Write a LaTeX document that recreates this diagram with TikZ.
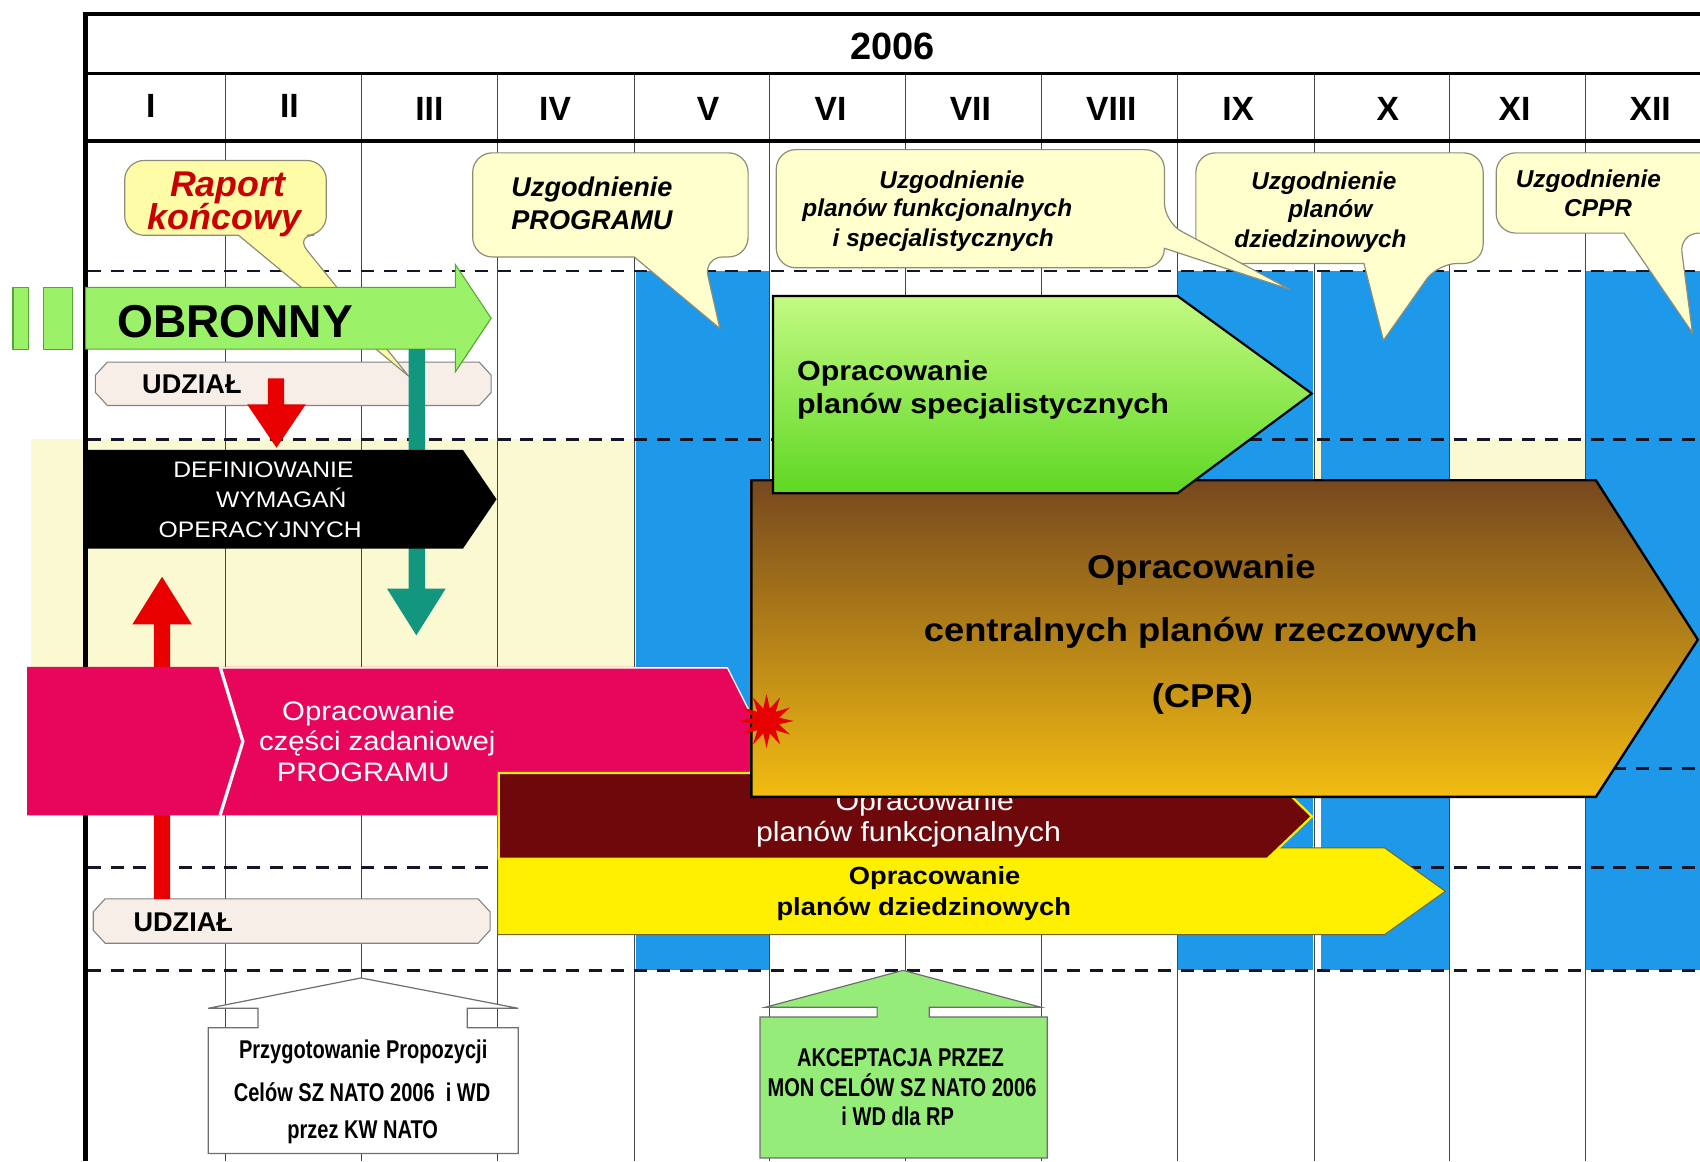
\documentclass[tikz,border=0pt]{standalone}
\usepackage{fontspec}
\setmainfont{Liberation Sans}
\newfontfamily\wideB[FakeStretch=1.1]{Liberation Sans}
\newfontfamily\narrowA[FakeStretch=0.78]{Liberation Sans}
\usetikzlibrary{shapes.geometric}
\newcommand\fsz[2]{\fontsize{#1}{#2}\selectfont}

\definecolor{sky}{RGB}{30,152,232}
\definecolor{cream}{RGB}{251,249,210}
\definecolor{gridc}{RGB}{70,70,70}
\definecolor{dashc}{RGB}{20,22,40}
\definecolor{bubblefill}{RGB}{255,255,205}
\definecolor{bubbleedge}{RGB}{140,140,120}
\definecolor{raportfill}{RGB}{255,252,168}
\definecolor{raportred}{RGB}{200,0,0}
\definecolor{obrgreen}{RGB}{155,242,105}
\definecolor{obredge}{RGB}{85,165,55}
\definecolor{udzfill}{RGB}{248,238,232}
\definecolor{udzedge}{RGB}{130,130,130}
\definecolor{tealarr}{RGB}{18,150,128}
\definecolor{redarr}{RGB}{232,0,0}
\definecolor{pinkarr}{RGB}{232,6,92}
\definecolor{maroonarr}{RGB}{110,8,10}
\definecolor{yellowarr}{RGB}{255,240,0}
\definecolor{yellowedge}{RGB}{110,100,20}
\definecolor{specTop}{RGB}{195,250,130}
\definecolor{specBot}{RGB}{95,215,35}
\definecolor{cprTop}{RGB}{118,72,30}
\definecolor{cprMid}{RGB}{185,128,35}
\definecolor{cprBot}{RGB}{242,188,18}
\definecolor{akcgreen}{RGB}{150,236,120}
\definecolor{boxedge}{RGB}{110,110,110}

\begin{document}
\begin{tikzpicture}[x=1pt,y=-1pt,
  txt/.style={inner sep=0pt, anchor=base},
  month/.style={txt, font=\fsz{31}{36}\bfseries},
  colline/.style={draw=gridc, line width=1pt},
  rowdash/.style={draw=dashc, line width=2.6pt, dash pattern=on 12pt off 9pt},
  frameline/.style={draw=black, line width=3.5pt},
  bubble/.style={fill=bubblefill, draw=bubbleedge, line width=1.1pt},
  bubbleR/.style={fill=raportfill, draw=bubbleedge, line width=1.1pt},
  bubtxt/.style={txt, font=\fsz{22.5}{27}\bfseries\itshape},
  obr/.style={fill=obrgreen, draw=obredge, line width=1pt},
  udz/.style={fill=udzfill, draw=udzedge, line width=1pt},
  udztxt/.style={txt, anchor=base west, font=\fsz{25}{30}\bfseries},
  deftxt/.style={txt, text=white, font=\fsz{20.7}{25}\wideB},
  pinktxt/.style={txt, text=white, font=\fsz{24.6}{29}\wideB},
  spectxt/.style={txt, anchor=base west, font=\fsz{25.5}{30}\wideB\bfseries},
  cprtxt/.style={txt, font=\fsz{30.5}{35}\wideB\bfseries},
  martxt/.style={txt, text=white, font=\fsz{25.4}{30}\wideB},
  yeltxt/.style={txt, font=\fsz{22.9}{27}\wideB\bfseries},
  boxtxt/.style={txt, font=\fsz{23.7}{28}\narrowA\bfseries},
  boxW/.style={fill=white, draw=boxedge, line width=1.1pt},
  boxG/.style={fill=akcgreen, draw=boxedge, line width=1.1pt}
]
\clip (0,0) rectangle (1568,1071);
\fill[white] (0,0) rectangle (1568,1071);

% background bands
\fill[cream] (29,405) rectangle (1568,615);
\fill[sky] (587,250) rectangle (710,895);
\fill[sky] (1086,250) rectangle (1211,895);
\fill[sky] (1218,250) rectangle (1337,895);
\fill[sky] (1462,250) rectangle (1568,895);

% month grid
\foreach \x in {208,333.5,459,585,710,835,961,1086,1212,1337,1462}
  \draw[colline] (\x,68) -- (\x,1071);

% dashed row separators
\foreach \y in {250,405,709,800,895}
  \draw[rowdash] (81,\y) -- (1568,\y);

% table frame
\draw[frameline] (77,13) -- (1568,13);
\draw[frameline, line width=3pt] (79,68) -- (1568,68);
\draw[frameline] (79,130) -- (1568,130);
\draw[frameline, line width=4pt] (79,11.3) -- (79,1071);

% header
\node[txt, font=\fsz{35}{40}\bfseries] (year) at (823.5,55) {2006};
\node[month] (m1) at (139,108) {I};
\node[month] (m2) at (267,108) {II};
\node[month] (m3) at (396,111) {III};
\node[month] (m4) at (512,111) {IV};
\node[month] (m5) at (653,111) {V};
\node[month] (m6) at (766,111) {VI};
\node[month] (m7) at (895,111) {VII};
\node[month] (m8) at (1025,111) {VIII};
\node[month] (m9) at (1142,111) {IX};
\node[month] (m10) at (1280,111) {X};
\node[month] (m11) at (1397,111) {XI};
\node[month] (m12) at (1522,111) {XII};

% callouts
\draw[bubble] (585,237) [rounded corners=18pt] -- (436,237) -- (436,141) -- (690,141) -- (690,237) -- (649,237) [sharp corners] -- (664,303) -- cycle;
\node[bubtxt, font=\fsz{25}{30}\bfseries\itshape] (u1a) at (546,181.5) {Uzgodnienie};
\node[bubtxt, font=\fsz{25}{30}\bfseries\itshape] (u1b) at (546,212) {PROGRAMU};

\draw[bubble] (1258,243) [rounded corners=18pt] -- (1103,243) -- (1103,141) -- (1368,141) -- (1368,243) -- (1326,243) [sharp corners] -- (1276,314) -- cycle;
\node[bubtxt] (u3a) at (1221,174.5) {Uzgodnienie};
\node[bubtxt] (u3b) at (1227,200.5) {planów};
\node[bubtxt] (u3c) at (1218,228) {dziedzinowych};

\draw[bubble] (1074,229) [rounded corners=18pt] -- (1074,247) -- (716,247) -- (716,138) -- (1074,138) -- (1074,205) [sharp corners] -- (1190,267) -- cycle;
\node[bubtxt] (u2a) at (878,173.5) {Uzgodnienie};
\node[bubtxt] (u2b) at (864.5,200) {planów funkcjonalnych};
\node[bubtxt] (u2c) at (870,227.5) {i specjalistycznych};

\draw[bubble] (1498,215) [rounded corners=18pt] -- (1380,215) -- (1380,141) -- (1620,141) -- (1620,215) -- (1549,215) [sharp corners] -- (1561,307) -- cycle;
\node[bubtxt] (u4a) at (1465,172.5) {Uzgodnienie};
\node[bubtxt] (u4b) at (1474,200) {CPPR};

% participation boxes
\draw[udz] (99,334) -- (442,334) -- (453,346) -- (453,362) -- (442,374) -- (99,374) -- (88,362) -- (88,346) -- cycle;
\node[udztxt] (udz1) at (131,363) {UDZIAŁ};
\draw[udz] (97,829) -- (441,829) -- (452,841) -- (452,858) -- (441,870) -- (97,870) -- (86,858) -- (86,841) -- cycle;
\node[udztxt] (udz2) at (123,859.5) {UDZIAŁ};

% final report callout
\draw[bubbleR] (220,217) [rounded corners=18pt] -- (115,217) -- (115,148) -- (301,148) -- (301,217) -- (272,217) [sharp corners] -- (377,347) -- cycle;
\node[txt, text=raportred, font=\fsz{33}{37}\bfseries\itshape] (rap1) at (210,181.5) {Raport};
\node[txt, text=raportred, font=\fsz{33}{37}\bfseries\itshape] (rap2) at (207,212) {końcowy};

% defence sector arrow
\draw[obr] (12,265) rectangle (26,322);
\draw[obr] (40,265) rectangle (67,322);
\draw[obr] (79,265) -- (420,265) -- (420,244) -- (453,293.5) -- (420,343) -- (420,322) -- (79,322) -- cycle;
\node[txt, anchor=base west, font=\fsz{42.5}{48}\bfseries] (obronny) at (108,311) {OBRONNY};

% vertical flow arrows
\fill[tealarr] (377,322) -- (392,322) -- (392,543) -- (411,543) -- (384,586) -- (357,543) -- (377,543) -- cycle;
\fill[redarr] (247,349) -- (262,349) -- (262,373) -- (282,373) -- (255,413) -- (228,373) -- (247,373) -- cycle;
\fill[redarr] (142,829) -- (142,576) -- (122,576) -- (149.5,532) -- (177,576) -- (157,576) -- (157,829) -- cycle;

% operational requirements
\fill[black] (80,415) -- (427,415) -- (458,460.5) -- (427,506) -- (80,506) -- cycle;
\node[deftxt] (def1) at (243,440) {DEFINIOWANIE};
\node[deftxt] (def2) at (259.5,468) {WYMAGAŃ};
\node[deftxt] (def3) at (240,495.5) {OPERACYJNYCH};

% task part of the programme
\fill[pinkarr] (25,615) -- (671,615) -- (705,683.5) -- (671,752) -- (25,752) -- cycle;
\draw[white, line width=1.2pt] (203,616) -- (671,616) -- (705,683.5);
\draw[white, line width=3pt] (203,615) -- (224,684) -- (203,752);
\node[pinktxt] (pk1) at (340,665) {Opracowanie};
\node[pinktxt] (pk2) at (348,692) {części zadaniowej};
\node[pinktxt] (pk3) at (335,721) {PROGRAMU};

% domain and functional plans
\draw[fill=yellowarr, draw=yellowedge, line width=0.8pt] (459,782) -- (1277,782) -- (1333,822) -- (1277,862) -- (459,862) -- cycle;
\node[yeltxt] (yl1) at (862,815.5) {Opracowanie};
\node[yeltxt] (yl2) at (852,844) {planów dziedzinowych};
\draw[fill=maroonarr, draw=yellowarr, line width=2pt] (460,713) -- (1169,713) -- (1210,753) -- (1169,792) -- (460,792) -- cycle;
\node[martxt] (fn1) at (853,748) {Opracowanie};
\node[martxt] (fn2) at (838,776) {planów funkcjonalnych};

% central material plans
\shadedraw[top color=cprTop, middle color=cprMid, bottom color=cprBot, draw=black, line width=2.2pt]
  (693,443) -- (1472,443) -- (1566,590) -- (1472,735) -- (693,735) -- cycle;
\node[cprtxt] (cpr1) at (1108,533.5) {Opracowanie};
\node[cprtxt] (cpr2) at (1107.5,592) {centralnych planów rzeczowych};
\node[cprtxt] (cpr3) at (1109,653) {(CPR)};

% specialist plans
\shadedraw[top color=specTop, bottom color=specBot, draw=black, line width=2pt]
  (713,273) -- (1086,273) -- (1210,363) -- (1086,455) -- (713,455) -- cycle;
\node[spectxt] (sp1) at (735,350.5) {Opracowanie};
\node[spectxt] (sp2) at (735,381) {planów specjalistycznych};

% start burst
\node[star, star points=12, star point ratio=2.1, minimum size=50pt, inner sep=0pt, fill=redarr] (burst) at (707,665) {};

% NATO targets callouts
\draw[boxW] (192,1064) -- (192,948) -- (238,948) -- (238,930) -- (192,930) -- (333,902) -- (478,930) -- (431,930) -- (431,948) -- (478,948) -- (478,1064) -- cycle;
\node[boxtxt] (nw1) at (335,976) {Przygotowanie Propozycji};
\node[boxtxt] (nw2) at (334,1016) {Celów SZ NATO 2006\ \ i WD};
\node[boxtxt] (nw3) at (334.5,1050.5) {przez KW NATO};

\draw[boxG] (701,1068) -- (701,938) -- (809,938) -- (809,929) -- (706,929) -- (833,895) -- (960,929) -- (857,929) -- (857,938) -- (966,938) -- (966,1068) -- cycle;
\node[boxtxt] (ak1) at (830.5,983.5) {AKCEPTACJA PRZEZ};
\node[boxtxt] (ak2) at (832,1011) {MON CELÓW SZ NATO 2006};
\node[boxtxt] (ak3) at (828,1038.5) {i WD dla RP};
\end{tikzpicture}
\end{document}
